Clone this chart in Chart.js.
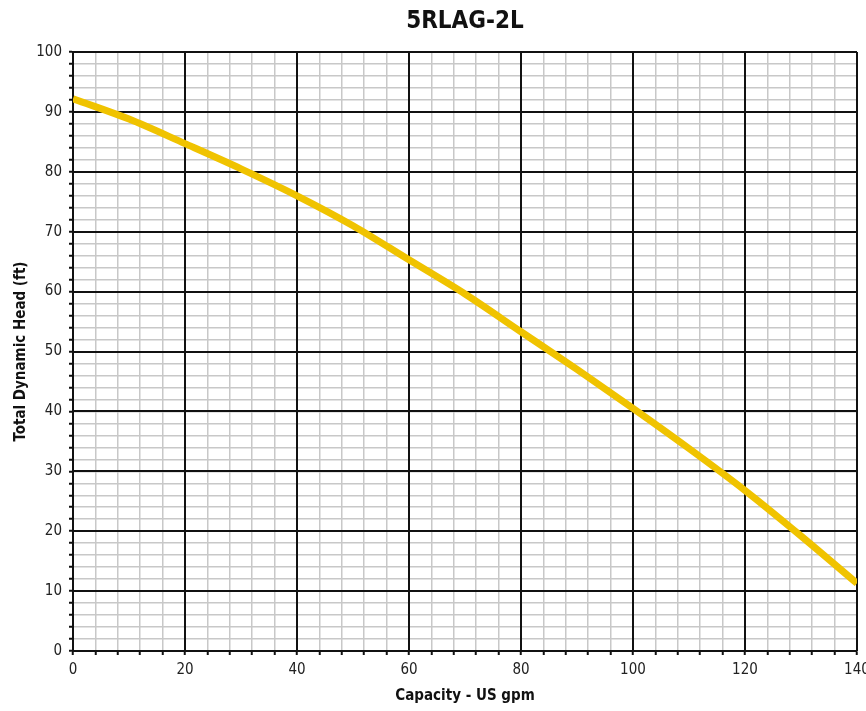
<!DOCTYPE html>
<html>
<head>
<meta charset="utf-8">
<script src="https://cdn.jsdelivr.net/npm/chart.js@4/dist/chart.umd.min.js"></script>
<style>
	html, body { margin: 0; padding: 0; background: #fff; }
	#wrap { width: 866px; height: 711px; }
</style>
</head>
<body>
<div id="wrap"><canvas id="chart" width="866" height="711"></canvas></div>
<script>
const capacity = [0, 10, 20, 30, 40, 50, 60, 70, 80, 90, 100, 110, 120, 130, 140];
const head = [92.2, 88.8, 84.7, 80.5, 76, 71, 65.3, 59.6, 53.3, 47, 40.5, 33.8, 26.8, 19.2, 11.3];

const narrow = "'Liberation Sans Narrow', 'DejaVu Sans Condensed', 'Liberation Sans', sans-serif";

const points = capacity.map((x, i) => ({ x: x, y: head[i] }));

new Chart(document.querySelector("#chart"), {
	type: "line",
	data: {
		datasets: [
			{
				label: "5RLAG-2L",
				data: points,
				borderColor: "#f0c300",
				borderWidth: 7,
				pointRadius: 0,
				cubicInterpolationMode: "monotone",
				borderCapStyle: "butt",
			},
		],
	},
	options: {
		responsive: false,
		animation: false,
		layout: { padding: { left: 0, right: 9, top: 0, bottom: 0 } },
		plugins: {
			legend: { display: false },
			tooltip: { enabled: false },
			title: { display: false },
		},
		scales: {
			// minor grid + labels
			x: {
				type: "linear",
				position: "bottom",
				min: 0,
				max: 140,
				z: -1,
				afterFit(scale) {
					scale.height = 60;
					scale.paddingLeft = 0;
					scale.paddingRight = 0;
				},
				ticks: {
					stepSize: 4,
					autoSkip: false,
					maxRotation: 0,
					padding: 6,
					color: "#222",
					font: { family: narrow, size: 15 },
					callback: (v) => (v % 20 === 0 ? v : ""),
				},
				grid: {
					color: "#c8c8c8",
					lineWidth: 1.5,
					tickColor: "#111",
					tickLength: 4,
					tickWidth: 2,
				},
				border: { color: "#111", width: 2 },
				title: {
					display: true,
					text: "Capacity - US gpm",
					color: "#111",
					font: { family: narrow, size: 15, weight: "bold" },
					padding: { top: 3, bottom: 6 },
				},
			},
			y: {
				type: "linear",
				position: "left",
				min: 0,
				max: 100,
				z: -1,
				afterFit(scale) {
					scale.width = 73;
					scale.paddingTop = 0;
					scale.paddingBottom = 0;
				},
				ticks: {
					stepSize: 2,
					autoSkip: false,
					padding: 7,
					color: "#222",
					font: { family: narrow, size: 15 },
					callback: (v) => (v % 10 === 0 ? v : ""),
				},
				grid: {
					color: "#c8c8c8",
					lineWidth: 1.5,
					tickColor: "#111",
					tickLength: 4,
					tickWidth: 2,
				},
				border: { color: "#111", width: 2 },
				title: {
					display: true,
					text: "Total Dynamic Head (ft)",
					color: "#111",
					font: { family: narrow, size: 15, weight: "bold" },
					padding: { top: 12, bottom: 10 },
				},
			},
			// major grid, drawn above the minor one; top axis also carries the title
			xMajor: {
				type: "linear",
				position: "top",
				min: 0,
				max: 140,
				z: 0,
				afterFit(scale) {
					scale.height = 52;
					scale.paddingLeft = 0;
					scale.paddingRight = 0;
				},
				ticks: { stepSize: 20, display: false },
				grid: { color: "#111", lineWidth: 2, drawTicks: false },
				border: { display: false },
				title: {
					display: true,
					text: "5RLAG-2L",
					color: "#111",
					font: { family: narrow, size: 24, weight: "bold", lineHeight: 1.2 },
					padding: { top: 7, bottom: 0 },
				},
			},
			yMajor: {
				type: "linear",
				position: "left",
				min: 0,
				max: 100,
				z: 0,
				afterFit(scale) {
					scale.width = 0;
					scale.paddingTop = 0;
					scale.paddingBottom = 0;
				},
				ticks: { stepSize: 10, display: false },
				grid: { color: "#111", lineWidth: 2, drawTicks: false },
				border: { display: false },
			},
		},
	},
});
</script>
</body>
</html>
